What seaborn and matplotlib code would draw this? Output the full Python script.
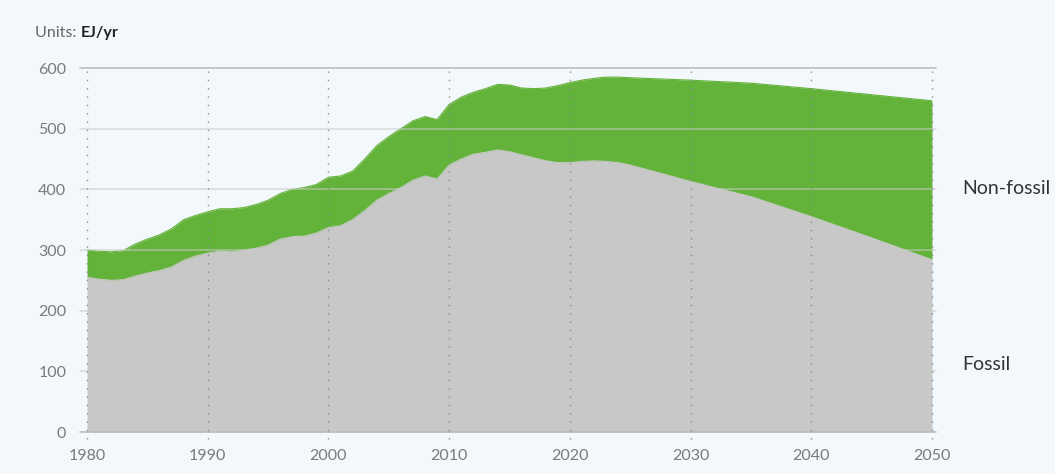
import matplotlib.pyplot as plt
import pandas as pd
import seaborn as sns

# Values (EJ/yr)
years = [1980, 1981, 1982, 1983, 1984, 1985, 1986, 1987, 1988, 1989,
         1990, 1991, 1992, 1993, 1994, 1995, 1996, 1997, 1998, 1999,
         2000, 2001, 2002, 2003, 2004, 2005, 2006, 2007, 2008, 2009,
         2010, 2011, 2012, 2013, 2014, 2015, 2016, 2017, 2018, 2019,
         2020, 2021, 2022, 2023, 2024, 2025, 2030, 2035, 2040, 2045, 2050]
fossil = [255, 252, 250, 251, 257, 262, 266, 272, 283, 290,
          295, 298, 297, 300, 303, 308, 318, 322, 323, 328,
          337, 340, 350, 365, 382, 393, 403, 415, 422, 417,
          440, 450, 458, 461, 465, 462, 457, 452, 447, 444,
          444, 446, 447, 446, 444, 440, 413, 388, 355, 320, 284]
total = [300, 298, 297, 299, 310, 318, 325, 335, 350, 357,
         363, 368, 368, 370, 375, 382, 393, 400, 403, 408,
         420, 422, 430, 450, 472, 487, 500, 513, 520, 515,
         540, 552, 560, 566, 573, 572, 567, 566, 567, 571,
         576, 580, 583, 585, 585, 584, 580, 575, 566, 556, 546]
x_ticks = [1980, 1990, 2000, 2010, 2020, 2030, 2040, 2050]
y_ticks = [0, 100, 200, 300, 400, 500, 600]

df = pd.DataFrame({'year': years, 'fossil': fossil, 'total': total})

bg = '#f3f8fc'
green = '#63b23a'
grey = '#c8c8c8'

sns.set_theme(style='white')
plt.rcParams['font.family'] = ['Lato', 'DejaVu Sans']

fig = plt.figure(figsize=(10.55, 4.74), dpi=100, facecolor=bg)
ax = fig.add_axes([0.0825, 0.0886, 0.8009, 0.7679])
ax.set_facecolor(bg)

ax.fill_between(df.year, 0, df.fossil, color=grey, lw=0, zorder=1)
ax.fill_between(df.year, df.fossil, df.total, color=green, lw=0, zorder=1)
sns.lineplot(data=df, x='year', y='total', ax=ax, color=green, lw=0.8, zorder=2)
sns.lineplot(data=df, x='year', y='fossil', ax=ax, color=grey, lw=0.8, zorder=2)

# grid drawn on top of the areas, running a little past the left edge
for v in y_ticks:
    if v in (0, 600):
        ax.plot([1979.4, 2050.3], [v, v], color='#b8bcc0', lw=1.2,
                zorder=3, clip_on=False)
    else:
        ax.plot([1979.4, 2050.3], [v, v], color='#c9ccc9', lw=1.2,
                alpha=0.6, zorder=3, clip_on=False)
for yr in x_ticks:
    ax.plot([yr, yr], [-12, 600], color='#8a8a8a', lw=1.0,
            ls=(0, (1, 5)), zorder=3, clip_on=False)

ax.set_xlim(1980, 2050)
ax.set_ylim(0, 600)
ax.set_xticks(x_ticks)
ax.set_yticks(y_ticks)
ax.tick_params(axis='both', colors='#7a7a7a', labelsize=11.5, length=0)
ax.tick_params(axis='x', pad=12)
ax.tick_params(axis='y', pad=15)
ax.set_xlabel('')
ax.set_ylabel('')
for s in ax.spines.values():
    s.set_visible(False)

fig.text(35 / 1055, 1 - 33 / 474, 'Units: ', color='#666666', fontsize=11.5,
         va='center', ha='left')
fig.text(81 / 1055, 1 - 33 / 474, 'EJ/yr', color='#222222', fontsize=11.5,
         fontweight='bold', va='center', ha='left')
fig.text(962 / 1055, 1 - 188 / 474, 'Non-fossil', color='#333333',
         fontsize=14, va='center', ha='left')
fig.text(962 / 1055, 1 - 365 / 474, 'Fossil', color='#333333',
         fontsize=14, va='center', ha='left')

fig.savefig('out.png', dpi=100, facecolor=bg)
